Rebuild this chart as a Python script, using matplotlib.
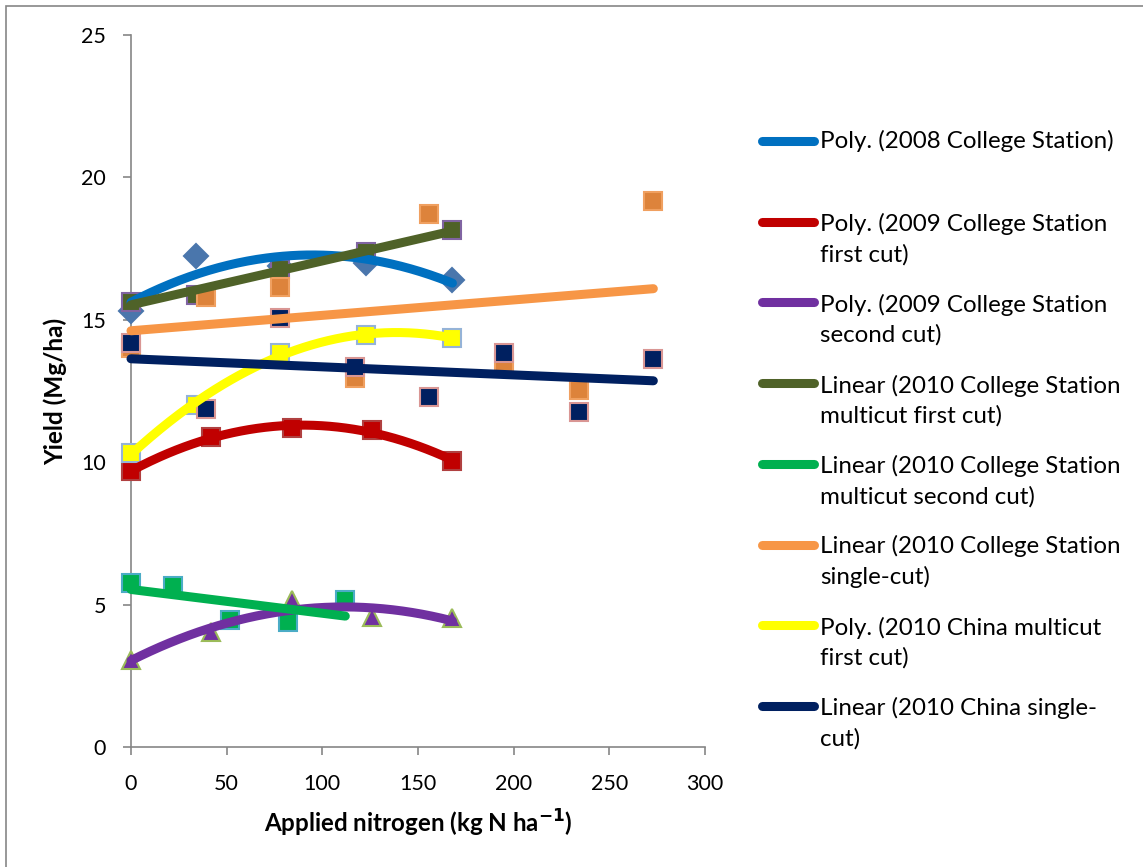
import numpy as np
import matplotlib
matplotlib.use("Agg")
import matplotlib.pyplot as plt
from matplotlib.lines import Line2D
from matplotlib.patches import Rectangle

plt.rcParams['font.family'] = ['Lato', 'DejaVu Sans']

# nitrogen rates (kg N/ha) and yields (Mg/ha) per site-year
n_cs2008 = [0, 34, 78, 123, 168]
y_cs2008 = [15.3, 17.25, 16.9, 17.0, 16.4]

n_cs2009 = [0, 42, 84, 126, 168]
y_cs2009_cut1 = [9.69, 10.88, 11.2, 11.13, 10.04]
y_cs2009_cut2 = [3.05, 4.04, 5.16, 4.56, 4.53]

n_cs2010_multi1 = [0, 34, 78, 123, 168]
y_cs2010_multi1 = [15.64, 15.87, 16.8, 17.38, 18.15]

n_cs2010_multi2 = [0, 22, 52, 82, 112]
y_cs2010_multi2 = [5.75, 5.65, 4.46, 4.4, 5.16]

n_single = [0, 39, 78, 117, 156, 195, 234, 273]
y_cs2010_single = [14.0, 15.8, 16.15, 12.96, 18.7, 13.5, 12.55, 19.17]

n_china_multi1 = [0, 34, 78, 123, 168]
y_china_multi1 = [10.32, 12.0, 13.83, 14.47, 14.36]

y_china_single = [14.19, 11.87, 15.06, 13.34, 12.29, 13.83, 11.76, 13.62]

# (x, y, marker, face, edge, trend colour, poly degree, legend label)
series = [
    (n_cs2008, y_cs2008, 'D', '#4a76ac', '#4a76ac', '#0070c0', 2,
     'Poly. (2008 College Station)'),
    (n_cs2009, y_cs2009_cut1, 's', '#c00000', '#b04040', '#c00000', 2,
     'Poly. (2009 College Station\nfirst cut)'),
    (n_cs2009, y_cs2009_cut2, '^', '#7030a0', '#9bbb59', '#7030a0', 2,
     'Poly. (2009 College Station\nsecond cut)'),
    (n_cs2010_multi1, y_cs2010_multi1, 's', '#4f6228', '#8064a2', '#4f6228', 1,
     'Linear (2010 College Station\nmulticut first cut)'),
    (n_cs2010_multi2, y_cs2010_multi2, 's', '#00b050', '#4bacc6', '#00b050', 1,
     'Linear (2010 College Station\nmulticut second cut)'),
    (n_single, y_cs2010_single, 's', '#dd833b', '#f0a060', '#f79646', 1,
     'Linear (2010 College Station\nsingle-cut)'),
    (n_china_multi1, y_china_multi1, 's', '#ffff00', '#95b3d7', '#ffff00', 2,
     'Poly. (2010 China multicut\nfirst cut)'),
    (n_single, y_china_single, 's', '#002060', '#d99694', '#002060', 1,
     'Linear (2010 China single-\ncut)'),
]

W, H = 1143, 867
fig = plt.figure(figsize=(W / 100, H / 100), dpi=100)
ax = fig.add_axes([131 / W, 1 - 747 / H, (705 - 131) / W, (747 - 35) / H])

# markers first
for x, y, mk, fc, ec, tc, deg, lab in series:
    ms = 12.5 if mk == 'D' else (13 if mk == '^' else 12.5)
    ax.plot(x, y, ls='none', marker=mk, ms=ms, mfc=fc, mec=ec, mew=1.5,
            zorder=3, clip_on=False)

# fitted trend lines over the data range
for x, y, mk, fc, ec, tc, deg, lab in series:
    coef = np.polyfit(x, y, deg)
    xs = np.linspace(min(x), max(x), 200)
    ax.plot(xs, np.polyval(coef, xs), color=tc, lw=6.5,
            solid_capstyle='round', zorder=4, clip_on=False)

ax.set_xlim(0, 300)
ax.set_ylim(0, 25)
ax.set_xticks(range(0, 301, 50))
ax.set_yticks(range(0, 26, 5))
for s in ['top', 'right']:
    ax.spines[s].set_visible(False)
for s in ['left', 'bottom']:
    ax.spines[s].set_color('#868686')
    ax.spines[s].set_linewidth(1.2)
ax.tick_params(axis='both', colors='#868686', length=6, width=1.2,
               labelcolor='black', labelsize=15.5)
ax.tick_params(axis='y', pad=12)
ax.tick_params(axis='x', pad=13.5)
ax.set_xlabel('Applied nitrogen (kg N ha$^{\\mathbf{-1}}$)', fontsize=17.4,
              fontweight='bold', labelpad=10)
ax.set_ylabel('Yield (Mg/ha)', fontsize=17.5, fontweight='bold', labelpad=10)

# legend with trend lines only, first line of each label level with its swatch
line_step = 32  # px between wrapped label lines
for i, (x, y, mk, fc, ec, tc, deg, lab) in enumerate(series):
    y_px = 141 + i * 80.7
    yy = 1 - y_px / H
    fig.add_artist(Line2D([762 / W, 814 / W], [yy, yy], color=tc, lw=6.5,
                          solid_capstyle='round', transform=fig.transFigure))
    # baseline alignment goes by the last line of the label
    extra = lab.count('\n') * line_step
    fig.text(820 / W, 1 - (y_px + 7.5 + extra) / H, lab, fontsize=17.4,
             va='baseline', ha='left', linespacing=1.48)

# chart frame
fig.add_artist(Rectangle((6 / W, -0.1), 1.2, 1.1 - 6 / H, fill=False,
                         edgecolor='#868686', lw=1.2, transform=fig.transFigure))

fig.savefig('out.png', dpi=100)
